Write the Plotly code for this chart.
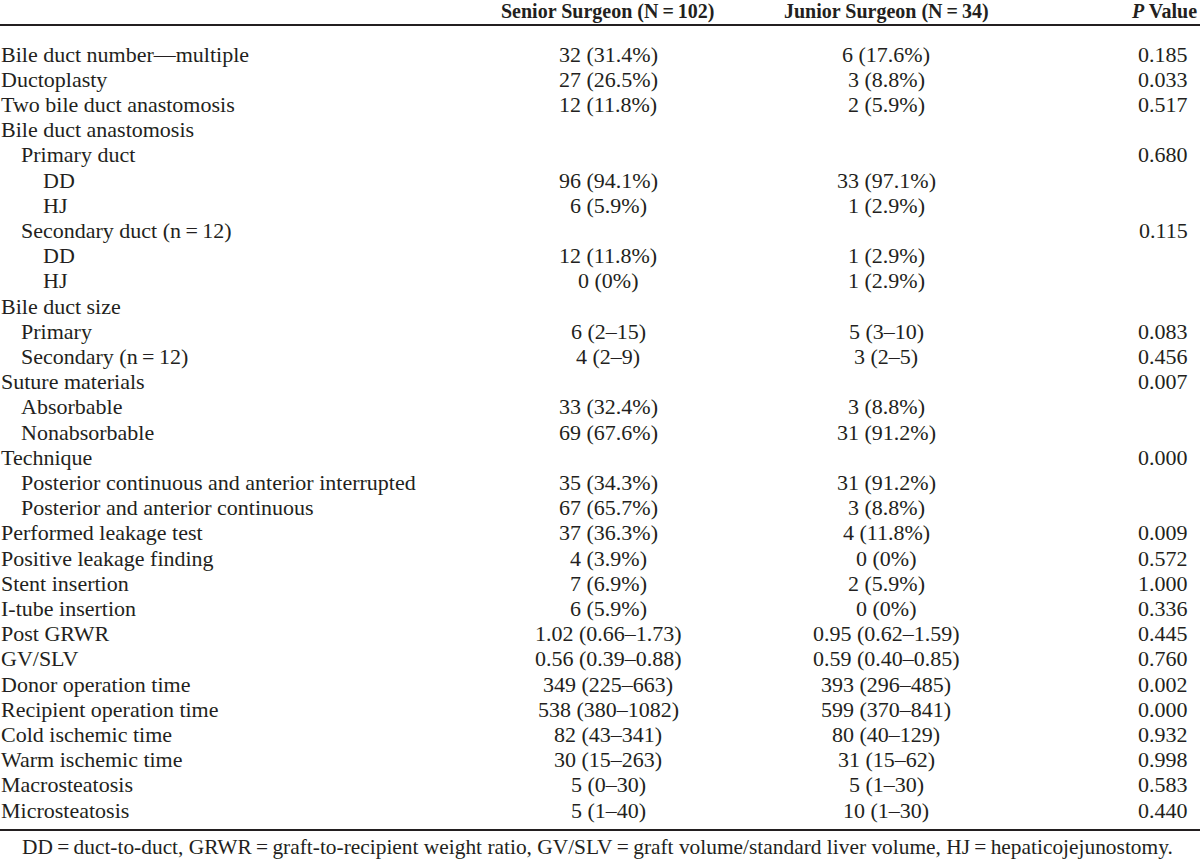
import plotly.graph_objects as go

TS = "\u2009"  # thin space used around "=" as in the typeset original

# ---- table data ----
row_labels = [
    "Bile duct number—multiple", "Ductoplasty", "Two bile duct anastomosis",
    "Bile duct anastomosis", "Primary duct", "DD", "HJ",
    f"Secondary duct (n{TS}={TS}12)", "DD", "HJ",
    "Bile duct size", "Primary", f"Secondary (n{TS}={TS}12)",
    "Suture materials", "Absorbable", "Nonabsorbable",
    "Technique", "Posterior continuous and anterior interrupted",
    "Posterior and anterior continuous",
    "Performed leakage test", "Positive leakage finding", "Stent insertion",
    "I-tube insertion", "Post GRWR", "GV/SLV", "Donor operation time",
    "Recipient operation time", "Cold ischemic time", "Warm ischemic time",
    "Macrosteatosis", "Microsteatosis",
]
row_levels = [0, 0, 0, 0, 1, 2, 2, 1, 2, 2, 0, 1, 1, 0, 1, 1, 0, 1, 1,
              0, 0, 0, 0, 0, 0, 0, 0, 0, 0, 0, 0]
senior_values = [
    "32 (31.4%)", "27 (26.5%)", "12 (11.8%)", "", "", "96 (94.1%)", "6 (5.9%)",
    "", "12 (11.8%)", "0 (0%)", "", "6 (2–15)", "4 (2–9)", "", "33 (32.4%)",
    "69 (67.6%)", "", "35 (34.3%)", "67 (65.7%)", "37 (36.3%)", "4 (3.9%)",
    "7 (6.9%)", "6 (5.9%)", "1.02 (0.66–1.73)", "0.56 (0.39–0.88)",
    "349 (225–663)", "538 (380–1082)", "82 (43–341)", "30 (15–263)",
    "5 (0–30)", "5 (1–40)",
]
junior_values = [
    "6 (17.6%)", "3 (8.8%)", "2 (5.9%)", "", "", "33 (97.1%)", "1 (2.9%)",
    "", "1 (2.9%)", "1 (2.9%)", "", "5 (3–10)", "3 (2–5)", "", "3 (8.8%)",
    "31 (91.2%)", "", "31 (91.2%)", "3 (8.8%)", "4 (11.8%)", "0 (0%)",
    "2 (5.9%)", "0 (0%)", "0.95 (0.62–1.59)", "0.59 (0.40–0.85)",
    "393 (296–485)", "599 (370–841)", "80 (40–129)", "31 (15–62)",
    "5 (1–30)", "10 (1–30)",
]
p_values = [
    "0.185", "0.033", "0.517", "", "0.680", "", "", "0.115", "", "", "",
    "0.083", "0.456", "0.007", "", "", "0.000", "", "", "0.009", "0.572",
    "1.000", "0.336", "0.445", "0.760", "0.002", "0.000", "0.932", "0.998",
    "0.583", "0.440",
]
column_headers = [f"Senior Surgeon (N{TS}={TS}102)", f"Junior Surgeon (N{TS}={TS}34)",
                  "<i>P</i> Value"]
footnote = (f"DD{TS}={TS}duct-to-duct, GRWR{TS}={TS}graft-to-recipient weight ratio, "
            f"GV/SLV{TS}={TS}graft volume/standard liver volume, HJ{TS}={TS}hepaticojejunostomy.")

# ---- layout / style ----
W, H = 1200, 861
FONT = "Liberation Serif, Times New Roman, serif"
INK = "#231f20"
BODY, HEAD, FOOT = 22, 20, 21.4
ROW0_PX, ROW_PX = 54, 25.2          # pixel centre of first row, row pitch
col_x = [608, 886, 1199]
col_anchor = ["center", "center", "right"]
data_x = [608, 886, 1163]
indent_x = [2, 22, 44]
PAD = -3                            # compensates annotation inner padding

y_top = -ROW0_PX / ROW_PX
y_bot = (H - ROW0_PX) / ROW_PX

def to_row(px):
    return (px - ROW0_PX) / ROW_PX

fig = go.Figure()
ann = []

def add(x, y, text, xanchor="center", size=BODY, bold=False, xshift=0):
    ann.append(dict(x=x, y=y, xref="x", yref="y",
                    text=f"<b>{text}</b>" if bold else text,
                    showarrow=False, xanchor=xanchor, yanchor="middle",
                    xshift=xshift,
                    font=dict(family=FONT, size=size, color=INK)))

for cx, anc, h in zip(col_x, col_anchor, column_headers):
    add(cx, to_row(11), h, xanchor=anc, size=HEAD, bold=True)

for i, lab in enumerate(row_labels):
    add(indent_x[row_levels[i]], i, lab, xanchor="left", xshift=PAD)
    for cx, vals in zip(data_x, (senior_values, junior_values, p_values)):
        if vals[i]:
            add(cx, i, vals[i])

add(597, to_row(847), footnote, xanchor="center", size=FOOT)

shapes = [
    dict(type="line", xref="x", yref="y", x0=0, x1=W, y0=to_row(25), y1=to_row(25),
         line=dict(color=INK, width=2)),
    dict(type="line", xref="x", yref="y", x0=0, x1=W, y0=to_row(830), y1=to_row(830),
         line=dict(color=INK, width=2)),
]

fig.add_trace(go.Scatter(x=[], y=[], mode="markers", showlegend=False))
fig.update_layout(
    width=W, height=H, margin=dict(l=0, r=0, t=0, b=0),
    paper_bgcolor="white", plot_bgcolor="white",
    xaxis=dict(range=[0, W], visible=False, fixedrange=True),
    yaxis=dict(range=[y_bot, y_top], visible=False, fixedrange=True),
    annotations=ann, shapes=shapes, showlegend=False,
)
fig.write_html("out.html", config={"displayModeBar": False},
               post_script="document.body.style.margin='0';"
                           "document.body.style.overflow='hidden';")
